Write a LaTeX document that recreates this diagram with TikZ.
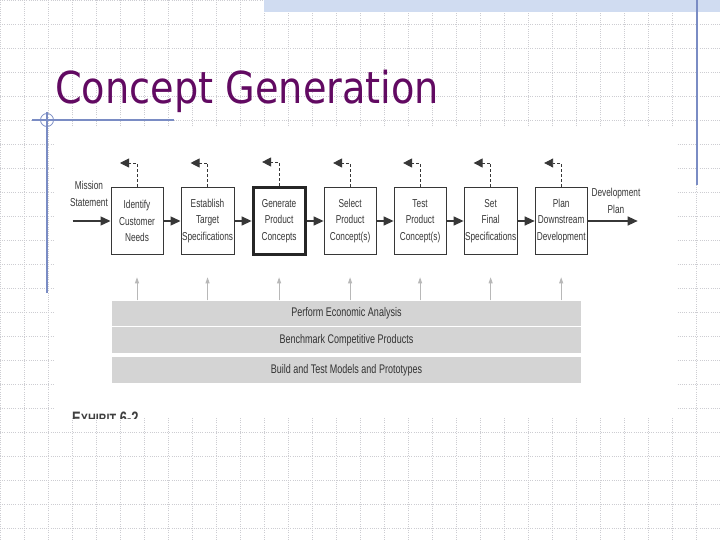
\documentclass[tikz,border=0pt]{standalone}
\usepackage{fontspec}
\setmainfont{Liberation Sans}
\newfontfamily\titlefont[FakeStretch=0.87]{DejaVu Sans}
\newfontfamily\scanfont[FakeStretch=0.72]{Liberation Sans}
\usepackage{tikz}
\usetikzlibrary{positioning,arrows.meta}

\definecolor{slidepurple}{RGB}{98,10,98}
\definecolor{ruleblue}{RGB}{122,140,196}
\definecolor{bandblue}{RGB}{208,220,241}
\definecolor{scanink}{RGB}{55,55,55}
\definecolor{gridgray}{RGB}{205,205,210}

\begin{document}
\begin{tikzpicture}[
    x=1pt, y=-1pt,
    node distance=17pt,
    every node/.style={font=\scanfont\fontsize{11.5}{16.5}\selectfont, text=scanink, align=center},
    stage/.style={rectangle, draw=scanink, line width=1pt, fill=white, minimum width=52pt, minimum height=67pt, inner sep=1pt},
    keystage/.style={stage, draw=black!85, line width=3pt},
    band/.style={rectangle, fill=black!17, minimum width=469pt, minimum height=25pt, inner sep=0pt, font=\scanfont\fontsize{12.5}{13}\selectfont, text=black!80},
    flow/.style={-{Triangle[length=10pt,width=9pt]}, draw=scanink, line width=1.3pt},
    feedback/.style={-{Triangle[length=9pt,width=9pt]}, draw=scanink, line width=0.9pt, dash pattern=on 3pt off 2pt},
    support/.style={-{Triangle[length=6pt,width=4pt]}, draw=black!28, line width=0.8pt},
    gridline/.style={draw=gridgray, line width=0.6pt, dash pattern=on 1pt off 1.2pt},
    rule/.style={draw=ruleblue, line width=1.2pt}
]
\useasboundingbox (0,0) rectangle (720,540);

%% ---- Slide background ----
\fill[white] (0,0) rectangle (720,540);
\draw[gridline, step=24pt] (0,0) grid (720,540);
\fill[bandblue] (264,0) rectangle (720,12.5);
\draw[rule] (697,0) -- (697,185);
\draw[rule] (32,120) -- (174,120);
\draw[rule] (47,112) -- (47,293);
\draw[ruleblue, line width=0.8pt] (47,120) circle (6.5);

%% ---- Title ----
\node[anchor=base west, inner sep=0pt, font=\titlefont\fontsize{44}{48}\selectfont, text=slidepurple] (title) at (55,104) {Concept Generation};

%% ---- Scanned exhibit area ----
\fill[white] (55,128) rectangle (677,418);

%% ---- Development stages ----
\node[stage] (identify) at (137,221) {Identify\\Customer\\Needs};
\node[stage, right=of identify] (establish) {Establish\\Target\\Specifications};
\node[keystage, right=of establish] (generate) {Generate\\Product\\Concepts};
\node[stage, right=of generate] (select) {Select\\Product\\Concept(s)};
\node[stage, right=of select] (test) {Test\\Product\\Concept(s)};
\node[stage, right=of test] (setspec) {Set\\Final\\Specifications};
\node[stage, right=of setspec] (plan) {Plan\\Downstream\\Development};

%% ---- Input / output ----
\node (mission) at (89,194) {Mission\\Statement};
\coordinate[left=38pt of identify.west] (missionin);
\node (devplan) at (616,201) {Development\\Plan};
\coordinate[right=50pt of plan.east] (devout);

%% ---- Main flow ----
\draw[flow] (missionin) -- (identify);
\draw[flow] (identify) -- (establish);
\draw[flow] (establish) -- (generate);
\draw[flow] (generate) -- (select);
\draw[flow] (select) -- (test);
\draw[flow] (test) -- (setspec);
\draw[flow] (setspec) -- (plan);
\draw[flow] (plan) -- (devout);

%% ---- Feedback to earlier stages ----
\draw[feedback] (identify.north) -- ++(0,-24) -- ++(-17,0);
\draw[feedback] (establish.north) -- ++(0,-24) -- ++(-17,0);
\draw[feedback] (generate.north) -- ++(0,-24) -- ++(-17,0);
\draw[feedback] (select.north) -- ++(0,-24) -- ++(-17,0);
\draw[feedback] (test.north) -- ++(0,-24) -- ++(-17,0);
\draw[feedback] (setspec.north) -- ++(0,-24) -- ++(-17,0);
\draw[feedback] (plan.north) -- ++(0,-24) -- ++(-17,0);

%% ---- Supporting activities ----
\node[band] (econ) at (346.5,313) {Perform Economic Analysis};
\node[band, minimum height=26pt] (bench) at (346.5,340) {Benchmark Competitive Products};
\node[band, minimum height=26pt] (proto) at (346.5,370) {Build and Test Models and Prototypes};

\draw[support] (identify |- econ.north) -- ++(0,-23);
\draw[support] (establish |- econ.north) -- ++(0,-23);
\draw[support] (generate |- econ.north) -- ++(0,-23);
\draw[support] (select |- econ.north) -- ++(0,-23);
\draw[support] (test |- econ.north) -- ++(0,-23);
\draw[support] (setspec |- econ.north) -- ++(0,-23);
\draw[support] (plan |- econ.north) -- ++(0,-23);

%% ---- Exhibit caption (cut off by the scan) ----
\begin{scope}
  \clip (55,128) rectangle (677,418);
  \node[anchor=base west, inner sep=0pt, font=\scanfont\bfseries\fontsize{18}{18}\selectfont, text=black!75] (exhibit) at (72,424) {E{\fontsize{15}{15}\selectfont XHIBIT} 6-2};
\end{scope}

\end{tikzpicture}
\end{document}
